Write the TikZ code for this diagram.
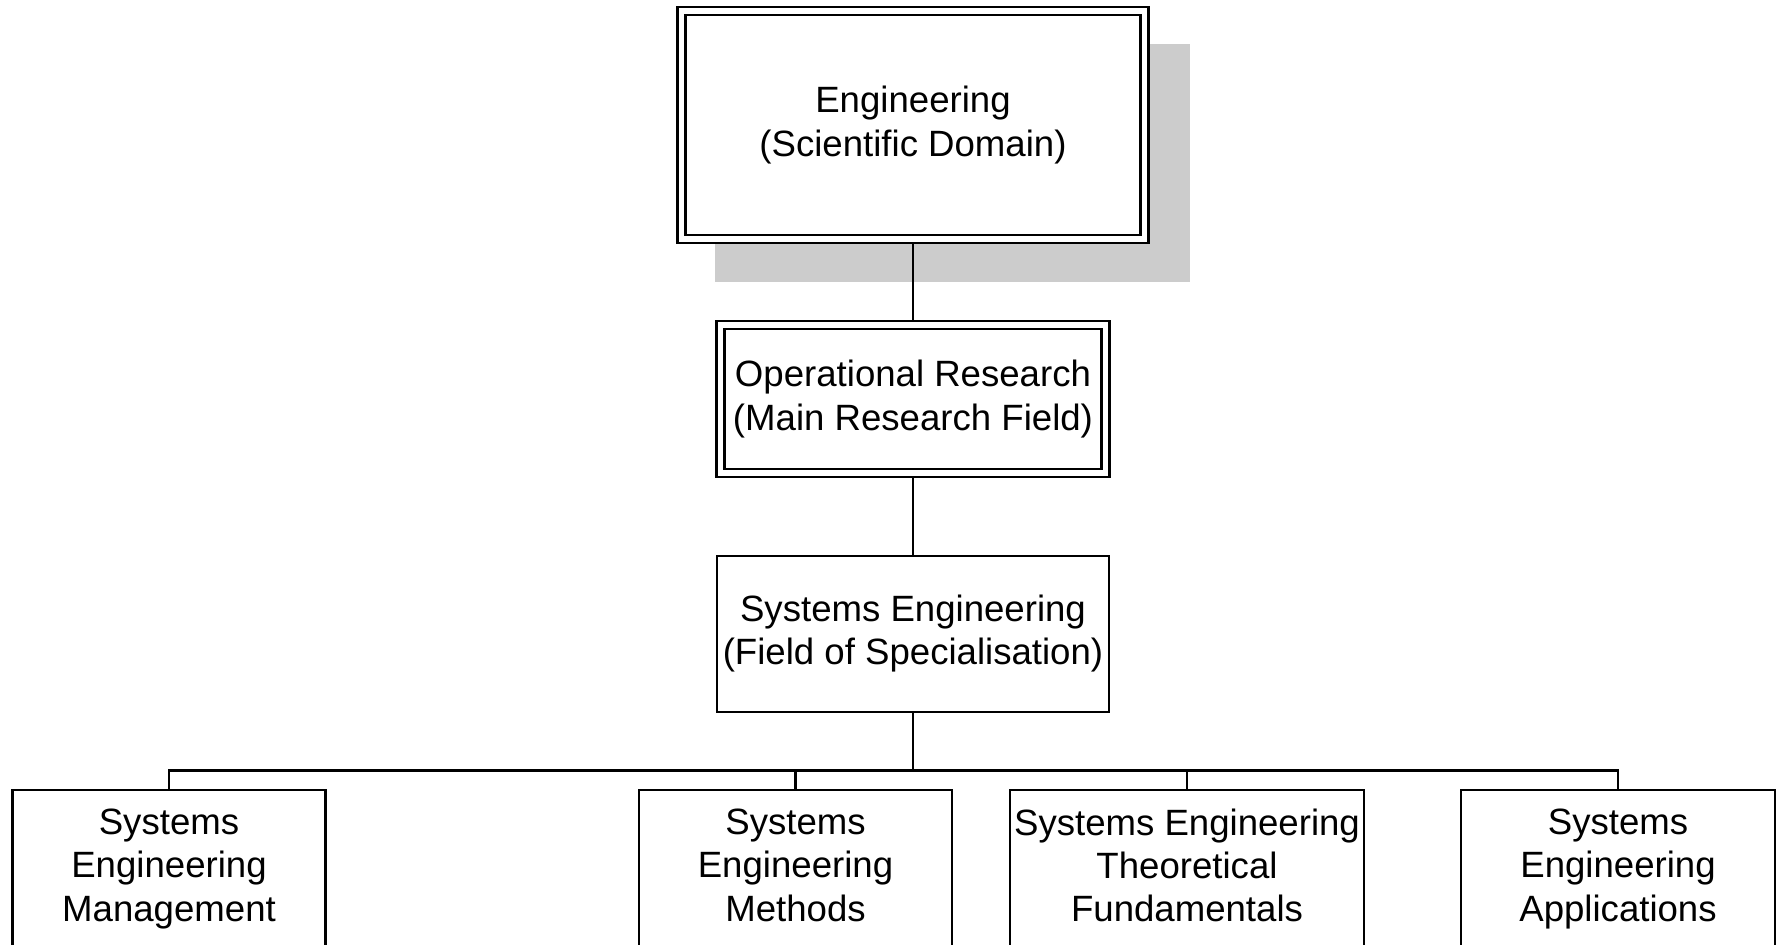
\documentclass[tikz,border=0pt]{standalone}
\usepackage{fontspec}
\setmainfont{Liberation Sans}
\usetikzlibrary{calc}
\pgfdeclarelayer{bg}
\pgfdeclarelayer{mid}
\pgfsetlayers{bg,mid,main}
\begin{document}
\begin{tikzpicture}[x=0.5pt,y=-0.5pt,
  every node/.style={font=\fontsize{18.3pt}{21.7pt}\selectfont, align=center, inner sep=0pt},
  box/.style={draw, line width=1.1pt, fill=white},
  dbox/.style={draw, line width=1.1pt, double=white, double distance=2.9pt, fill=white},
  conn/.style={draw, line width=1.2pt}]
\useasboundingbox (0,0) rectangle (1779,944);
\clip (0,0) rectangle (1779,944);
\node[dbox, minimum width=231.5pt, minimum height=113.8pt] (E) at (913,125) {Engineering\\(Scientific Domain)};
\node[dbox, minimum width=192.5pt, minimum height=74.3pt] (OR) at (913,399) {Operational Research\\(Main Research Field)};
\node[box, minimum width=196pt, minimum height=77.85pt] (SE) at (913,633.8) {Systems Engineering\\(Field of Specialisation)};
\node[box, minimum width=156.5pt, minimum height=79pt] (b1) at (169,869) {Systems\\Engineering\\Management};
\node[box, minimum width=156.5pt, minimum height=79pt] (b2) at (795.5,869) {Systems\\Engineering\\Methods\vphantom{g}};
\node[box, minimum width=177pt, minimum height=79pt] (b3) at (1187,869) {Systems Engineering\\Theoretical\\Fundamentals\vphantom{g}};
\node[box, minimum width=156.75pt, minimum height=79pt] (b4) at (1618,869) {Systems\\Engineering\\Applications};
\begin{pgfonlayer}{bg}
\fill[gray!40] ($(E.north west)+(35,34)$) rectangle ($(E.south east)+(44,42)$);
\end{pgfonlayer}
\begin{pgfonlayer}{mid}
\coordinate (bus) at (913,770.5);
\draw[conn] (E.south) -- (OR.north);
\draw[conn] (OR.south) -- (SE.north);
\draw[conn] (SE.south) -- (bus) -| (b1.north);
\draw[conn] (SE.south) -- (bus) -| (b2.north);
\draw[conn] (SE.south) -- (bus) -| (b3.north);
\draw[conn] (SE.south) -- (bus) -| (b4.north);
\end{pgfonlayer}
\end{tikzpicture}
\end{document}
